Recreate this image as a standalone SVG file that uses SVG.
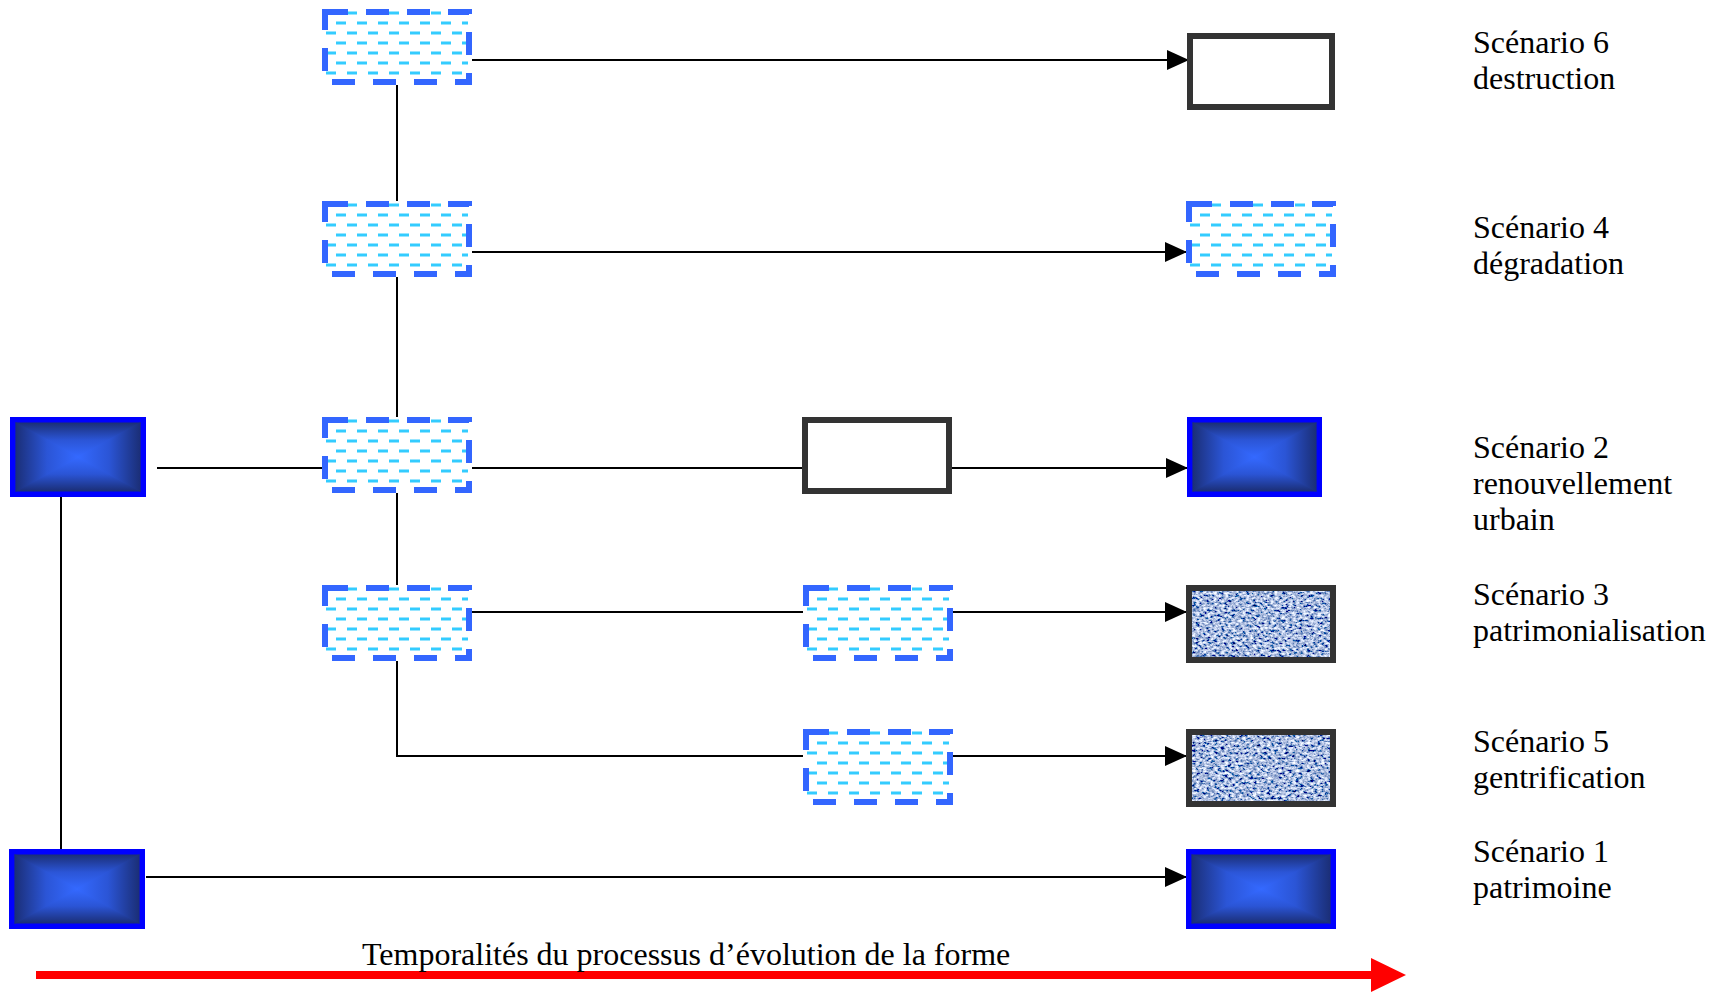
<svg xmlns="http://www.w3.org/2000/svg" width="1726" height="993" viewBox="0 0 1726 993">
<style>
.lbl{font-family:"Liberation Serif","Times New Roman",serif;font-size:32px;fill:#000}
.conn{stroke:#000;stroke-width:2;fill:none}
.arr{marker-end:url(#ah)}
.wbox{fill:#fff;stroke:#333;stroke-width:6}
.cy{stroke:#33ccff;stroke-width:2.8;stroke-dasharray:10 11;fill:none}
.bd{fill:none;stroke:#3366ff;stroke-width:6;stroke-dasharray:23 18}
.bo{fill:#0000ff}
.t{stroke:url(#gT);fill:url(#gT);stroke-width:1.2}
.b{stroke:url(#gB);fill:url(#gB);stroke-width:1.2}
.l{stroke:url(#gL);fill:url(#gL);stroke-width:1.2}
.r{stroke:url(#gR);fill:url(#gR);stroke-width:1.2}
</style>
<defs>
<marker id="ah" markerUnits="userSpaceOnUse" markerWidth="22" markerHeight="20" refX="22" refY="10" orient="auto">
<path d="M0,0 L22,10 L0,20 Z" fill="#000"/>
</marker>
<linearGradient id="gT" x1="0" y1="0" x2="0" y2="1"><stop offset="0" stop-color="#1b2f78"/><stop offset="0.5" stop-color="#2b55d6"/><stop offset="1" stop-color="#3469ff"/></linearGradient>
<linearGradient id="gB" x1="0" y1="1" x2="0" y2="0"><stop offset="0" stop-color="#1b2f78"/><stop offset="0.5" stop-color="#2b55d6"/><stop offset="1" stop-color="#3469ff"/></linearGradient>
<linearGradient id="gL" x1="0" y1="0" x2="1" y2="0"><stop offset="0" stop-color="#1b2f78"/><stop offset="0.5" stop-color="#2b55d6"/><stop offset="1" stop-color="#3469ff"/></linearGradient>
<linearGradient id="gR" x1="1" y1="0" x2="0" y2="0"><stop offset="0" stop-color="#1b2f78"/><stop offset="0.5" stop-color="#2b55d6"/><stop offset="1" stop-color="#3469ff"/></linearGradient>
<filter id="denim" x="0" y="0" width="1" height="1" filterUnits="objectBoundingBox">
<feTurbulence type="fractalNoise" baseFrequency="0.28 0.4" numOctaves="3" seed="7" result="n"/>
<feColorMatrix in="n" type="matrix" values="2.1 0 0 0 -0.66  2.0 0 0 0 -0.52  1.7 0 0 0 -0.14  0 0 0 0 1" result="c"/>
<feComposite in="c" in2="SourceGraphic" operator="in"/>
</filter>
<g id="dbox">
<rect x="3" y="3" width="144" height="70" fill="#fff"/>
<path class="cy" d="M4,4 H146 M4,24 H146 M4,44 H146 M4,64 H146"/>
<path class="cy" d="M14,14 H146 M14,34 H146 M14,54 H146"/>
<rect class="bd" x="3" y="3" width="144" height="70"/>
</g>
</defs>
<rect width="1726" height="993" fill="#fff"/>

<g id="connectors">
<path class="conn arr" d="M472,60 H1189"/>
<path class="conn" d="M397,85 V201"/>
<path class="conn arr" d="M472,252 H1187"/>
<path class="conn" d="M397,277 V417"/>
<path class="conn" d="M157,468 H325"/>
<path class="conn" d="M472,468 H802"/>
<path class="conn arr" d="M952,468 H1188"/>
<path class="conn" d="M397,493 V585"/>
<path class="conn" d="M472,612 H803"/>
<path class="conn arr" d="M952,612 H1187"/>
<path class="conn" d="M397,661 V756 H803"/>
<path class="conn arr" d="M952,756 H1187"/>
<path class="conn arr" d="M146,877 H1187"/>
<path class="conn" d="M61,497 V849"/>
</g>

<g id="n-start-top">
<rect class="bo" x="10" y="417" width="136" height="80"/>
<polygon class="t" points="16,423 140,423 78,457"/>
<polygon class="b" points="16,491 140,491 78,457"/>
<polygon class="l" points="16,423 16,491 78,457"/>
<polygon class="r" points="140,423 140,491 78,457"/>
</g>
<g id="n-start-bottom">
<rect class="bo" x="9" y="849" width="136" height="80"/>
<polygon class="t" points="15,855 139,855 77,889"/>
<polygon class="b" points="15,923 139,923 77,889"/>
<polygon class="l" points="15,855 15,923 77,889"/>
<polygon class="r" points="139,855 139,923 77,889"/>
</g>

<g id="n-s6-mid"><use href="#dbox" x="322" y="9"/></g>
<g id="n-s4-mid"><use href="#dbox" x="322" y="201"/></g>
<g id="n-s2-mid"><use href="#dbox" x="322" y="417"/></g>
<g id="n-s3-mid"><use href="#dbox" x="322" y="585"/></g>
<g id="n-s3-mid2"><use href="#dbox" x="803" y="585"/></g>
<g id="n-s5-mid2"><use href="#dbox" x="803" y="729"/></g>
<g id="n-s2-mid2"><rect class="wbox" x="805" y="420" width="144" height="71"/></g>

<g id="n-s6-end"><rect class="wbox" x="1190" y="36" width="142" height="71"/></g>
<g id="n-s4-end"><use href="#dbox" x="1186" y="201"/></g>
<g id="n-s2-end">
<rect class="bo" x="1187" y="417" width="135" height="80"/>
<polygon class="t" points="1193,423 1316,423 1254.5,457"/>
<polygon class="b" points="1193,491 1316,491 1254.5,457"/>
<polygon class="l" points="1193,423 1193,491 1254.5,457"/>
<polygon class="r" points="1316,423 1316,491 1254.5,457"/>
</g>
<g id="n-s3-end">
<rect x="1189" y="588" width="144" height="72" fill="#4a6db0" filter="url(#denim)"/>
<rect x="1189" y="588" width="144" height="72" fill="none" stroke="#333" stroke-width="6"/>
</g>
<g id="n-s5-end">
<rect x="1189" y="732" width="144" height="72" fill="#4a6db0" filter="url(#denim)"/>
<rect x="1189" y="732" width="144" height="72" fill="none" stroke="#333" stroke-width="6"/>
</g>
<g id="n-s1-end">
<rect class="bo" x="1186" y="849" width="150" height="80"/>
<polygon class="t" points="1192,855 1330,855 1261,889"/>
<polygon class="b" points="1192,923 1330,923 1261,889"/>
<polygon class="l" points="1192,855 1192,923 1261,889"/>
<polygon class="r" points="1330,855 1330,923 1261,889"/>
</g>

<g id="labels">
<text class="lbl" x="1473" y="53">Scénario 6</text>
<text class="lbl" x="1473" y="89">destruction</text>
<text class="lbl" x="1473" y="238">Scénario 4</text>
<text class="lbl" x="1473" y="274">dégradation</text>
<text class="lbl" x="1473" y="458">Scénario 2</text>
<text class="lbl" x="1473" y="494">renouvellement</text>
<text class="lbl" x="1473" y="530">urbain</text>
<text class="lbl" x="1473" y="605">Scénario 3</text>
<text class="lbl" x="1473" y="641">patrimonialisation</text>
<text class="lbl" x="1473" y="752">Scénario 5</text>
<text class="lbl" x="1473" y="788">gentrification</text>
<text class="lbl" x="1473" y="862">Scénario 1</text>
<text class="lbl" x="1473" y="898">patrimoine</text>
</g>

<g id="timeline">
<rect x="36" y="971" width="1336" height="8" fill="#ff0000"/>
<polygon points="1371,958 1406,975 1371,992" fill="#ff0000"/>
<text class="lbl" x="362" y="965">Temporalités du processus d’évolution de la forme</text>
</g>
</svg>
